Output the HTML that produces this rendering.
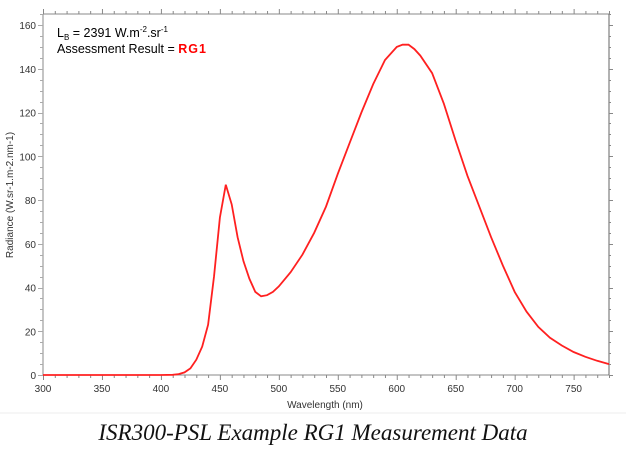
<!DOCTYPE html>
<html><head><meta charset="utf-8"><style>
body{margin:0;width:626px;height:446px;background:#fff;overflow:hidden}
svg text{font-family:"Liberation Sans",Arial,sans-serif}
</style></head><body>
<svg width="626" height="446" id="chart">
<g id="axes"></g>
<path id="curve" fill="none" stroke="#ff2020" stroke-width="1.8"/>
<text x="57" y="37" font-size="12.5" fill="#000">L<tspan font-size="8" dy="3">B</tspan><tspan dy="-3"> = 2391 W.m</tspan><tspan font-size="8" dy="-5">-2</tspan><tspan dy="5">.sr</tspan><tspan font-size="8" dy="-5">-1</tspan></text>
<text x="57" y="53" font-size="12.5" fill="#000">Assessment Result = <tspan fill="#ff0000" font-weight="bold" letter-spacing="1">RG1</tspan></text>
<text x="325" y="408" font-size="10" text-anchor="middle" fill="#333">Wavelength (nm)</text>
<text transform="translate(13,195) rotate(-90)" font-size="10" text-anchor="middle" fill="#333">Radiance (W.sr-1.m-2.nm-1)</text>
<line x1="0" y1="413" x2="626" y2="413" stroke="#eee"/>
<text x="313" y="440" font-size="23" font-style="italic" text-anchor="middle" fill="#111" style="font-family:'Liberation Serif',serif">ISR300-PSL Example RG1 Measurement Data</text>
</svg>
<script>
const wavelengths=[300,350,400,410,415,420,425,430,435,440,445,450,455,460,465,470,475,480,485,490,495,500,510,520,530,540,550,560,570,580,590,600,605,610,615,620,630,640,650,660,670,680,690,700,710,720,730,740,750,760,770,780];
const radiance=[0,0,0,0.1,0.4,1.2,3,7,13,23,45,72,87,78,63,52,44,38,36,36.5,38,40.5,47,55,65,77,92,106,120,133,144,150,151,151,149,146,138,124,107,91,77,63,50,38,29,22,17,13.5,10.5,8.3,6.5,5];
const xTicks=[300,350,400,450,500,550,600,650,700,750];
const yTicks=[0,20,40,60,80,100,120,140,160];
const X0=43,X1=609,Y0=375,Y1=14,xmin=300,xmax=780;
const sx=v=>X0+(v-xmin)*(X1-X0)/(xmax-xmin);
const sy=v=>Y0-v*2.1875;
const ns="http://www.w3.org/2000/svg";
const g=document.getElementById('axes');
function ln(x1,y1,x2,y2,c,name){const l=document.createElementNS(ns,'line');l.setAttribute('x1',x1);l.setAttribute('y1',y1);l.setAttribute('x2',x2);l.setAttribute('y2',y2);l.setAttribute('stroke',c);l.setAttribute('stroke-width',1);


g.appendChild(l);}
function tx(x,y,s,a,name){const t=document.createElementNS(ns,'text');t.setAttribute('x',x);t.setAttribute('y',y);t.setAttribute('font-size',10);t.setAttribute('fill','#333');t.setAttribute('text-anchor',a);t.textContent=s;


g.appendChild(t);}
ln(X0,Y1,X0,Y0,'#888','y-axis-line');ln(X0,Y0,X1,Y0,'#888','x-axis-line');ln(X0,Y1,X1,Y1,'#888','top-axis-line');ln(X1,Y1,X1,Y0,'#666','right-axis-line');
for(let v=xmin;v<=xmax;v+=10){const x=sx(v)+0.5,maj=v%50==0;ln(x,Y0,x,Y0+(maj?5:3),'#888','x-tick');ln(x,Y1,x,Y1-(maj?5:3),'#888','top-tick');}
for(let v=0;v<=165;v+=5){const y=Math.round(sy(v))+0.5,maj=v%20==0;ln(X0,y,X0-(maj?5:3),y,'#aaa','y-tick');ln(X1,y,X1+(maj?4:2),y,'#888','right-tick');}
xTicks.forEach(v=>tx(sx(v),Y0+17,v,'middle','x-tick-label'));
yTicks.forEach(v=>tx(X0-7,sy(v)+4,v,'end','y-tick-label'));
document.getElementById('curve').setAttribute('d',wavelengths.map((w,i)=>(i?'L':'M')+sx(w).toFixed(1)+','+sy(radiance[i]).toFixed(1)).join(''));
</script>
</body></html>
